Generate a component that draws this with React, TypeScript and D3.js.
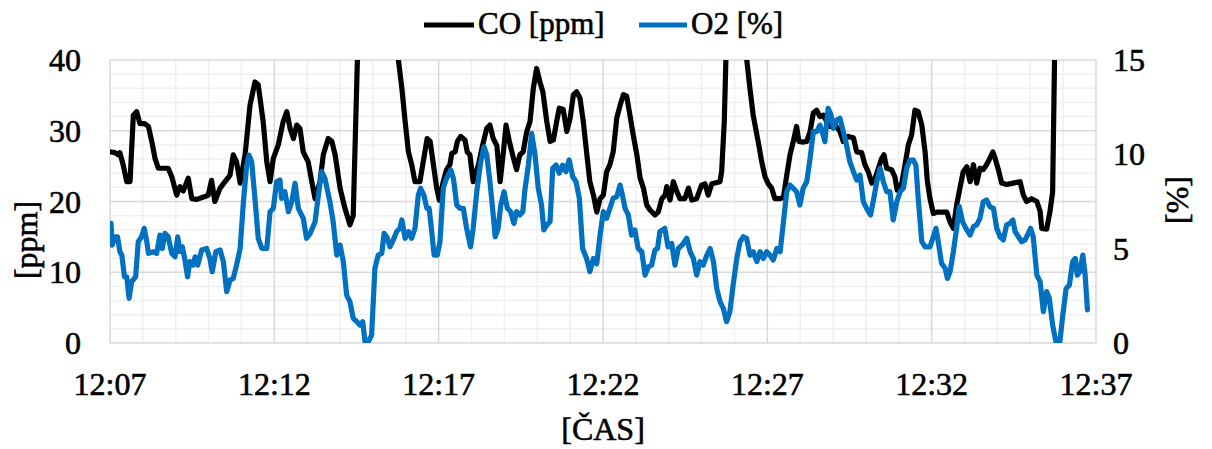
import React from "react";
import * as d3 from "d3";

// time in minutes after 12:07
const coTime = [0.03,0.15,0.25,0.30,0.40,0.51,0.61,0.71,0.81,0.91,1.06,1.17,1.27,1.37,1.47,1.77,1.88,2.03,2.13,2.23,2.38,2.49,2.64,2.89,2.99,3.09,3.19,3.35,3.50,3.65,3.75,3.85,3.96,4.11,4.26,4.41,4.51,4.66,4.77,4.87,4.97,5.12,5.27,5.38,5.48,5.58,5.68,5.78,5.88,6.03,6.14,6.24,6.39,6.49,6.64,6.75,6.85,7.00,7.15,7.30,7.40,7.53,7.67,8.58,8.77,8.88,8.98,9.08,9.18,9.28,9.43,9.53,9.65,9.74,9.84,9.94,10.02,10.14,10.24,10.34,10.40,10.50,10.57,10.67,10.80,10.87,10.95,11.05,11.21,11.34,11.46,11.56,11.66,11.77,11.87,11.97,12.05,12.15,12.25,12.37,12.47,12.57,12.68,12.78,12.88,12.98,13.08,13.17,13.29,13.39,13.49,13.59,13.67,13.79,13.90,14.00,14.10,14.20,14.30,14.40,14.50,14.60,14.71,14.81,14.91,15.01,15.11,15.21,15.31,15.42,15.52,15.62,15.72,15.82,15.92,16.03,16.13,16.23,16.33,16.43,16.58,16.68,16.79,16.89,16.94,17.04,17.14,17.24,17.34,17.49,17.60,17.70,17.85,18.00,18.10,18.20,18.31,18.56,18.61,18.69,18.74,18.86,19.23,19.37,19.47,19.57,19.72,19.83,19.93,20.03,20.13,20.23,20.39,20.49,20.59,20.69,20.79,20.89,20.96,21.09,21.20,21.30,21.40,21.50,21.60,21.70,21.81,21.91,22.06,22.21,22.31,22.46,22.62,22.72,22.87,22.97,23.07,23.18,23.28,23.38,23.48,23.55,23.63,23.78,23.88,23.95,24.09,24.19,24.29,24.39,24.49,24.59,24.70,24.80,24.87,24.95,25.05,25.15,25.46,25.56,25.66,25.76,25.86,25.96,26.07,26.17,26.27,26.37,26.47,26.57,26.67,26.77,26.86,26.93,27.03,27.13,27.28,27.48,27.69,27.79,27.89,28.04,28.20,28.30,28.35,28.50,28.60,28.68,28.74,28.84,29.73];
const coValues = [27.0,26.9,26.6,26.9,25.2,22.8,22.8,32.2,32.7,31.0,31.0,30.6,28.5,26.1,24.7,24.7,23.5,20.9,22.1,21.5,23.3,20.4,20.3,20.7,20.9,23.0,20.0,21.9,22.8,23.7,26.6,25.6,22.6,26.6,33.6,36.9,36.5,31.3,25.6,22.8,26.1,28.0,31.3,32.7,30.3,28.9,30.8,30.3,27.0,25.6,22.8,20.4,22.8,26.6,28.9,28.5,26.6,21.9,19.0,16.7,18.0,40.5,70,70,40.2,36.0,31.3,27.0,25.2,22.8,22.8,25.6,28.9,28.5,25.2,21.9,20.2,22.8,24.5,25.2,26.8,27.0,28.5,29.2,28.7,27.0,26.6,22.8,25.2,28.0,30.3,30.8,28.9,27.9,22.8,27.0,30.8,28.5,26.6,24.5,26.6,27.0,29.9,31.3,36.0,38.8,36.9,35.5,31.3,28.5,28.7,31.3,33.2,33.0,29.9,31.8,35.1,35.5,34.6,31.3,27.0,22.8,20.9,18.5,20.4,20.9,24.2,25.2,27.0,31.8,33.6,35.1,34.9,32.2,29.4,26.6,23.3,21.9,19.5,18.8,18.1,18.5,20.4,20.9,22.1,20.2,22.8,21.5,20.4,20.4,21.9,20.2,20.4,22.3,22.5,20.9,22.5,22.8,24.2,31.3,40.2,65,65,40.2,36.0,32.2,28.5,25.6,23.5,22.5,21.9,20.4,20.4,20.6,23.7,26.6,28.5,30.6,28.5,28.4,28.5,29.9,32.5,32.9,32.0,32.2,31.3,30.6,30.8,29.9,28.5,29.2,29.0,27.0,26.9,25.2,24.2,22.6,23.3,24.7,26.1,26.6,24.7,24.5,23.5,21.6,22.6,25.2,28.0,29.4,32.9,32.7,30.8,27.0,22.8,20.4,18.3,18.5,18.5,17.1,16.2,19.5,21.9,24.2,24.9,22.8,25.2,22.6,24.7,24.5,25.2,26.1,27.0,26.1,24.5,22.6,22.4,22.6,22.8,20.9,20.0,20.4,20.0,18.6,16.2,16.1,18.6,21.3,40.5,80,90];

const o2Time = [0.03,0.07,0.15,0.23,0.30,0.36,0.44,0.51,0.58,0.66,0.78,0.86,0.96,1.04,1.12,1.17,1.32,1.42,1.52,1.59,1.67,1.77,1.88,1.98,2.06,2.13,2.20,2.28,2.36,2.43,2.53,2.59,2.67,2.79,2.94,3.04,3.11,3.22,3.35,3.45,3.55,3.65,3.75,3.85,3.96,4.06,4.16,4.23,4.31,4.41,4.51,4.62,4.77,4.87,4.97,5.07,5.17,5.22,5.32,5.43,5.53,5.63,5.73,5.88,5.98,6.09,6.24,6.34,6.44,6.54,6.69,6.79,6.90,7.00,7.10,7.20,7.30,7.40,7.51,7.61,7.69,7.76,7.86,7.96,8.06,8.16,8.27,8.34,8.42,8.52,8.62,8.72,8.82,8.88,8.98,9.08,9.18,9.28,9.38,9.45,9.55,9.64,9.71,9.79,9.86,9.96,10.04,10.14,10.24,10.37,10.45,10.55,10.65,10.75,10.85,10.97,11.05,11.16,11.28,11.38,11.46,11.56,11.66,11.72,11.81,11.89,11.99,12.09,12.19,12.29,12.37,12.47,12.56,12.63,12.73,12.83,12.93,13.03,13.13,13.20,13.29,13.39,13.47,13.57,13.67,13.77,13.87,13.97,14.08,14.18,14.28,14.38,14.50,14.60,14.71,14.81,14.91,15.01,15.11,15.21,15.31,15.42,15.52,15.59,15.67,15.77,15.87,15.97,16.07,16.18,16.28,16.38,16.48,16.58,16.66,16.73,16.88,16.98,17.09,17.19,17.29,17.41,17.55,17.65,17.75,17.85,17.95,18.05,18.16,18.26,18.36,18.46,18.56,18.66,18.76,18.86,18.96,19.07,19.17,19.27,19.37,19.47,19.57,19.68,19.78,19.88,19.98,20.08,20.18,20.29,20.39,20.49,20.59,20.69,20.79,20.89,20.99,21.09,21.20,21.30,21.40,21.50,21.60,21.70,21.75,21.85,21.94,22.01,22.11,22.21,22.31,22.41,22.51,22.62,22.72,22.82,22.92,23.02,23.14,23.22,23.33,23.43,23.53,23.63,23.73,23.83,23.94,24.04,24.14,24.24,24.34,24.44,24.52,24.59,24.70,24.80,24.95,25.05,25.13,25.20,25.30,25.41,25.48,25.56,25.66,25.76,25.84,25.94,26.04,26.17,26.27,26.37,26.47,26.57,26.67,26.77,26.88,26.98,27.08,27.18,27.28,27.38,27.47,27.54,27.64,27.74,27.84,27.94,28.01,28.09,28.20,28.30,28.40,28.50,28.58,28.68,28.78,28.90,28.99,29.09,29.19,29.29,29.37,29.43,29.51,29.60,29.67,29.74];
const o2Values = [6.34,5.19,5.63,5.63,4.84,4.66,3.51,3.51,2.37,3.25,3.51,5.37,5.63,6.08,5.37,4.75,4.84,4.75,5.72,5.01,5.81,5.63,4.75,4.57,5.63,4.84,5.10,4.40,3.51,4.31,4.13,4.57,4.13,4.93,5.01,4.48,3.78,4.84,4.93,4.31,2.72,3.33,3.42,4.13,5.01,7.49,9.43,9.96,9.61,7.67,5.55,5.01,5.01,6.96,7.14,8.55,8.64,7.67,8.02,6.96,7.49,8.46,7.14,6.61,5.55,5.81,6.43,7.84,9.08,8.72,7.49,6.43,4.66,5.19,4.31,2.54,2.19,1.31,1.13,0.95,1.13,0.07,0.07,0.42,3.96,4.66,4.75,5.81,5.63,5.10,5.46,5.90,6.08,6.52,5.55,5.90,5.55,6.08,7.84,8.20,7.84,7.14,7.14,5.90,4.66,4.66,5.37,8.20,8.72,9.17,8.72,7.31,7.14,7.14,6.08,5.10,6.08,8.02,9.61,10.40,10.0,8.55,6.79,5.63,6.08,7.31,8.02,7.14,6.96,6.34,6.96,6.79,6.96,8.20,9.43,11.11,10.0,8.20,7.31,5.99,6.26,6.43,9.26,9.43,9.0,9.43,9.08,9.70,8.81,8.55,7.67,5.01,4.48,3.78,4.48,4.2,5.72,6.96,6.61,7.14,7.67,7.76,8.37,7.84,7.14,6.79,5.72,5.99,5.01,4.84,3.60,4.04,4.13,4.93,5.01,5.90,6.08,5.10,5.28,4.13,5.01,5.19,5.55,4.84,4.48,3.60,4.31,4.13,4.66,5.01,4.31,2.90,2.19,1.84,1.13,1.66,3.07,4.48,5.37,5.63,5.55,4.66,4.84,4.31,4.84,4.48,4.84,4.66,4.40,5.01,4.84,6.43,8.02,8.37,8.20,8.02,7.31,8.20,8.55,9.79,11.20,11.20,11.55,11.02,10.67,12.44,12.08,11.38,11.82,11.91,11.2,10.5,9.61,9.08,8.64,8.90,7.49,7.14,6.79,7.49,8.55,9.26,8.55,8.02,8.02,6.52,7.49,8.02,8.20,9.26,9.70,9.70,9.43,7.67,5.37,5.10,5.10,5.63,6.08,5.37,4.22,3.96,3.42,3.78,4.84,6.08,7.23,6.43,6.08,5.72,6.17,6.26,6.61,7.49,7.58,7.23,7.14,6.08,5.63,5.46,6.26,6.34,6.52,5.90,5.63,5.37,5.46,5.81,6.08,5.63,3.60,3.25,1.66,2.72,2.37,0.95,0.07,0.07,1.48,2.89,3.07,4.31,4.48,3.60,3.78,4.66,3.60,1.75];

const xTickLabels = ["12:07", "12:12", "12:17", "12:22", "12:27", "12:32", "12:37"];
const leftTicks = [0, 10, 20, 30, 40];
const rightTicks = [0, 5, 10, 15];
const seriesNames = ["CO [ppm]", "O2 [%]"];

const W = 1212, H = 449;
const PL = 110, PR = 1096, PT = 60, PB = 343;
const FONT = "'Liberation Serif', 'Times New Roman', serif";

export default function App() {
  const x = d3.scaleLinear().domain([0, 30]).range([PL, PR]);
  const yL = d3.scaleLinear().domain([0, 40]).range([PB, PT]);
  const yR = d3.scaleLinear().domain([0, 15]).range([PB, PT]);

  const coData = coTime.map((t, i) => [t, coValues[i]] as [number, number]);
  const o2Data = o2Time.map((t, i) => [t, o2Values[i]] as [number, number]);

  const coLine = d3.line<[number, number]>().x(d => x(d[0])).y(d => yL(d[1]));
  const o2Line = d3.line<[number, number]>().x(d => x(d[0])).y(d => yR(d[1]));

  const minorX = d3.range(0, 31, 1).filter(m => m % 5 !== 0);
  const majorX = d3.range(0, 31, 5);
  const minorY = d3.range(0, 41, 2).filter(v => v % 10 !== 0);

  const txt = { fontSize: 32, fill: "#000", stroke: "#000", strokeWidth: 0.6 };

  return (
    <svg width={W} height={H} style={{ position: "absolute", left: 0, top: 0, background: "#fff" }} fontFamily={FONT}>
      <defs>
        <clipPath id="plotClip">
          <rect x={PL} y={PT} width={PR - PL} height={PB - PT} />
        </clipPath>
      </defs>
      {minorY.map(v => (
        <line key={"my" + v} x1={PL} x2={PR} y1={yL(v)} y2={yL(v)} stroke="#f0f0f0" strokeWidth={1.5} />
      ))}
      {minorX.map(m => (
        <line key={"mx" + m} x1={x(m)} x2={x(m)} y1={PT} y2={PB} stroke="#f0f0f0" strokeWidth={1.5} />
      ))}
      {leftTicks.map(v => (
        <line key={"gy" + v} x1={PL} x2={PR} y1={yL(v)} y2={yL(v)} stroke="#d9d9d9" strokeWidth={1.5} />
      ))}
      {majorX.map(m => (
        <line key={"gx" + m} x1={x(m)} x2={x(m)} y1={PT} y2={PB} stroke="#d9d9d9" strokeWidth={1.5} />
      ))}

      <g clipPath="url(#plotClip)">
        <path d={coLine(coData) || ""} fill="none" stroke="#000" strokeWidth={5.2} strokeLinejoin="round" strokeLinecap="round" />
        <path d={o2Line(o2Data) || ""} fill="none" stroke="#0070C0" strokeWidth={5.2} strokeLinejoin="round" strokeLinecap="round" />
      </g>

      {leftTicks.map(v => (
        <text key={"lt" + v} x={81} y={yL(v) + 11} textAnchor="end" {...txt}>{v}</text>
      ))}
      {rightTicks.map(v => (
        <text key={"rt" + v} x={1113} y={yR(v) + 11} textAnchor="start" {...txt}>{v}</text>
      ))}
      {xTickLabels.map((l, i) => (
        <text key={"xt" + l} x={x(i * 5)} y={395} textAnchor="middle" {...txt}>{l}</text>
      ))}

      <text transform={`translate(37,240) rotate(-90)`} textAnchor="middle" {...txt}>[ppm]</text>
      <text transform={`translate(1188,200) rotate(-90)`} textAnchor="middle" {...txt}>[%]</text>
      <text x={603} y={440} textAnchor="middle" {...txt}>[ČAS]</text>

      <line x1={424} x2={474} y1={25} y2={25} stroke="#000" strokeWidth={5.2} />
      <text x={478} y={34} {...txt} fontSize={31}>{seriesNames[0]}</text>
      <line x1={639} x2={687} y1={25} y2={25} stroke="#0070C0" strokeWidth={5.2} />
      <text x={691} y={34} {...txt} fontSize={31}>{seriesNames[1]}</text>
    </svg>
  );
}
